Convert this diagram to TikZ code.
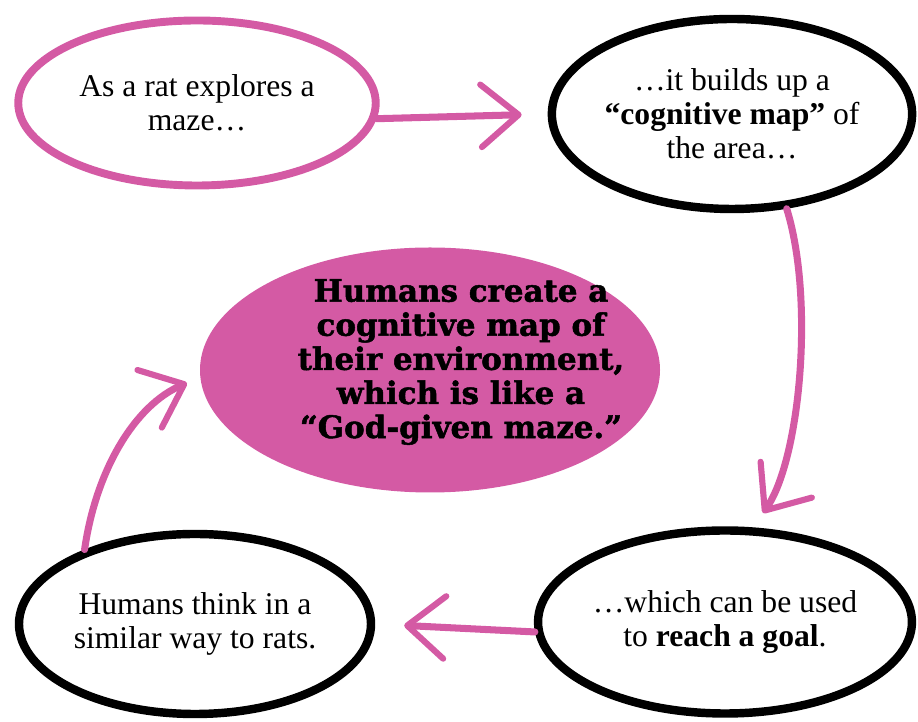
\documentclass[tikz,border=0pt]{standalone}
\usepackage{fontspec}
\setmainfont{Liberation Serif}
\newfontfamily\slab[BoldFeatures={FakeBold=1.6}]{DejaVu Serif}
\usetikzlibrary{shapes.geometric, arrows.meta}
\definecolor{rosa}{RGB}{212,90,164}

\begin{document}
\begin{tikzpicture}[
        bubble/.style={ellipse, draw, line width=4.8pt, align=center, inner sep=0pt, font=\fontsize{18}{19.2}\selectfont},
        pointer/.style={draw=rosa, line width=4pt, line cap=round, -{Straight Barb[length=0.75cm, width=1.25cm, line width=3.5pt, round]}}
    ]
        \useasboundingbox (0, 0) rectangle (18.36, 14.44);
        \node[bubble, draw=rosa, line width=4.5pt, minimum width=7.15cm, minimum height=3.3cm] (rat) at (3.94, 12.38) {As a rat explores a\\maze\ldots};
        \node[bubble, minimum width=6.98cm, minimum height=3.8cm] (map) at (14.64, 12.16) {\ldots it builds up a\\\textbf{“cognitive map”} of\\the area\ldots};
        \node[ellipse, fill=rosa, minimum width=9.2cm, minimum height=4.9cm] (centre) at (8.6, 7.04) {};
        \node[align=center, font=\slab\bfseries\fontsize{17.6}{19.4}\selectfont] (claim) at (9.22, 7.2) {Humans create a\\cognitive map of\\their environment,\\which is like a\\“God-given maze.”};
        \node[bubble, minimum width=7.26cm, minimum height=3.66cm] (goal) at (14.5, 2.0) {\ldots which can be used\\to \textbf{reach a goal}.};
        \node[bubble, minimum width=7.04cm, minimum height=3.6cm] (think) at (3.9, 1.96) {Humans think in a\\similar way to rats.};
        \coordinate (downtip) at (15.26, 4.18);
        \coordinate (uptip) at (3.74, 6.78);
        \draw[pointer, shorten >=0.52cm] (rat.-5) -- (map.west);
        \draw[pointer] (map.-60) .. controls (16.3, 8.44) and (16.0, 5.24) .. (downtip);
        \draw[pointer, shorten >=0.58cm] (goal.183) -- (think.east);
        \draw[pointer] (think.146) .. controls (1.92, 5.04) and (2.7, 6.34) .. (uptip);
    \end{tikzpicture}
\end{document}
